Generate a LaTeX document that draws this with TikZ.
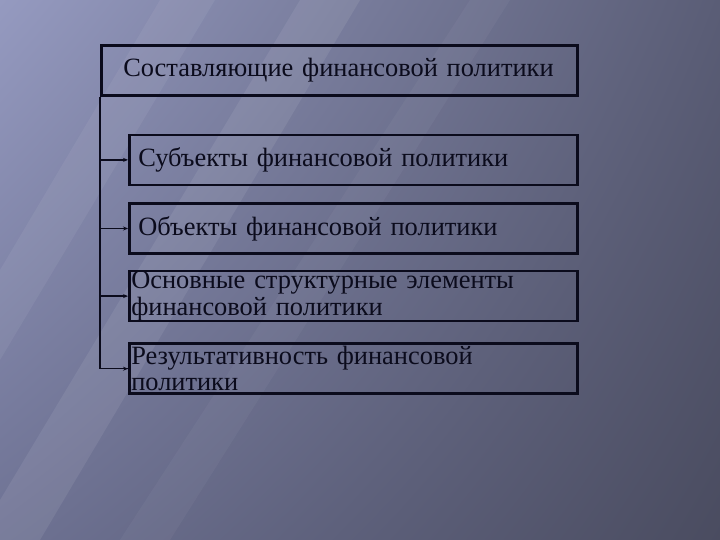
\documentclass[tikz,border=0pt]{standalone}
\usepackage{fontspec}
\setmainfont{Liberation Serif}
\usetikzlibrary{positioning, arrows.meta, shadings}

\definecolor{bgUL}{HTML}{959AC0}
\definecolor{bgUR}{HTML}{5A5D76}
\definecolor{bgLL}{HTML}{6E7293}
\definecolor{bgLR}{HTML}{4A4C60}
\definecolor{frameInk}{HTML}{0B0B1C}

\begin{document}
\begin{tikzpicture}[x=1bp, y=1bp, >={Stealth[length=5bp, width=4bp]},
    every node/.style={align=left, font=\fontsize{26.5}{26.5}\selectfont, text=frameInk},
    topbox/.style={draw=frameInk, line width=2.6bp, minimum width=476bp, minimum height=50bp, text width=432bp, inner xsep=22bp, inner ysep=0bp},
    subbox/.style={draw=frameInk, line width=2.6bp, minimum width=448bp, minimum height=50bp, text width=430bp, inner xsep=9bp, inner ysep=0bp},
    widebox/.style={subbox, text width=444bp, inner xsep=2bp, inner ysep=-4.5bp},
    branch/.style={frameInk, line width=1.5bp}]
    % background
    \useasboundingbox (0,0) rectangle (720,-540);
    \shade[upper left=bgUL, upper right=bgUR, lower left=bgLL, lower right=bgLR] (0,0) rectangle (720,-540);
    \fill[white, opacity=0.08] (300,0) -- (360,0) -- (40,-540) -- (0,-540) -- (0,-500) -- cycle;
    \fill[white, opacity=0.06] (160,0) -- (215,0) -- (0,-360) -- (0,-270) -- cycle;
    \fill[white, opacity=0.04] (470,0) -- (510,0) -- (170,-540) -- (120,-540) -- cycle;

    % main box
    \node (comp) [topbox, anchor=north west] at (100,-44) {Составляющие финансовой политики};

    % components
    \node (subj) [subbox, below right=37bp and 28bp of comp.south west, anchor=north west] {Субъекты финансовой политики};
    \node (obj) [subbox, below=16bp of subj] {Объекты финансовой политики};
    \node (elem) [widebox, below=15bp of obj] {Основные структурные элементы\\финансовой политики};
    \node (res) [widebox, below=20bp of elem] {Результативность финансовой\\политики};

    % connectors
    \draw[branch] (comp.south west) |- (res.west);
    \foreach \part in {subj, obj, elem, res}
        \draw[branch, ->] (comp.south west |- \part.west) -- (\part.west);
\end{tikzpicture}
\end{document}
